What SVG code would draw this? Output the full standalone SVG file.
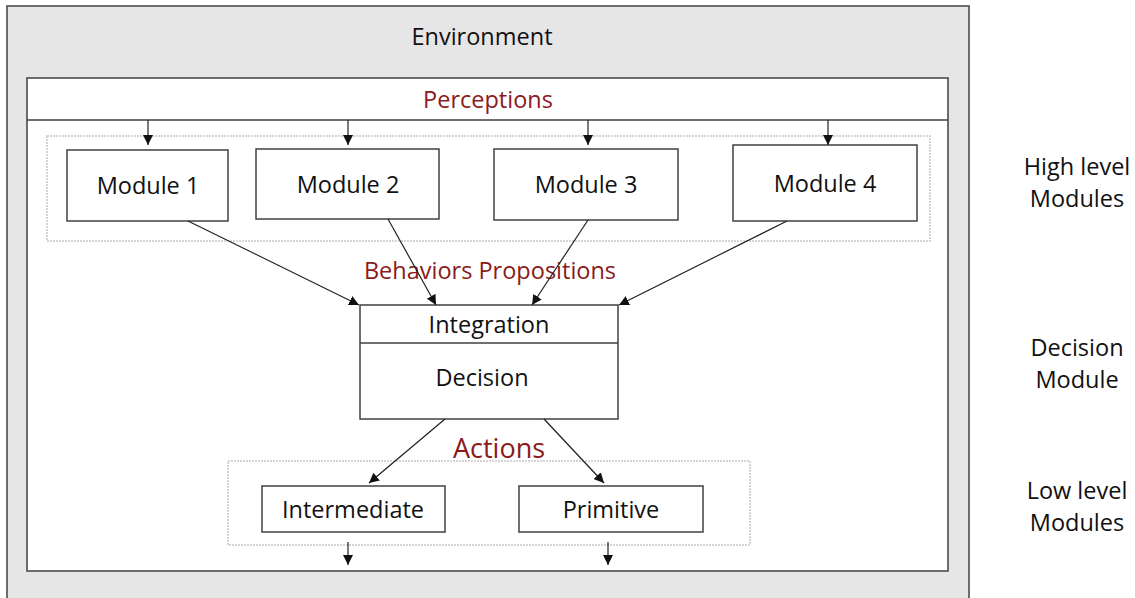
<svg xmlns="http://www.w3.org/2000/svg" width="1135" height="598" viewBox="0 0 1135 598">
<defs>
<marker id="ah" viewBox="0 0 10 10" refX="10" refY="5" markerWidth="10" markerHeight="10" markerUnits="userSpaceOnUse" orient="auto">
<path d="M0,0 L10,5 L0,10 z" fill="#111"/>
</marker>
<style>
.t{font-family:"Open Sans","Liberation Sans",sans-serif;font-size:23.5px;fill:#111;text-anchor:middle}
.r{fill:#8b1a1a}
.box{fill:#fff;stroke:#404040;stroke-width:1.5}
.grp{fill:none;stroke:#c8c8c8;stroke-width:1.5;stroke-dasharray:2 1}
.c{stroke:#222;stroke-width:1.2;fill:none;marker-end:url(#ah)}
</style>
</defs>
<rect width="1135" height="598" fill="#fff"/>
<g id="environment">
<rect x="7" y="6" width="962" height="610" fill="#e6e6e6" stroke="#404040" stroke-width="1.5"/>
<text class="t" x="482" y="45">Environment</text>
</g>
<g id="system">
<rect x="27" y="78" width="921" height="493" class="box"/>
<line x1="27" y1="120" x2="948" y2="120" stroke="#404040" stroke-width="1.5"/>
<text class="t r" x="488" y="108">Perceptions</text>
</g>
<g id="high-level-group">
<rect x="47" y="136" width="883" height="105" class="grp"/>
</g>
<g id="module1">
<rect x="67" y="150" width="161" height="71" class="box"/>
<text class="t" x="148" y="194">Module 1</text>
</g>
<g id="module2">
<rect x="256" y="149" width="183" height="70" class="box"/>
<text class="t" x="348" y="193">Module 2</text>
</g>
<g id="module3">
<rect x="494" y="149" width="184" height="71" class="box"/>
<text class="t" x="586" y="193">Module 3</text>
</g>
<g id="module4">
<rect x="733" y="145" width="184" height="76" class="box"/>
<text class="t" x="825" y="192">Module 4</text>
</g>
<text class="t r" x="490" y="279">Behaviors Propositions</text>
<g id="decision">
<rect x="360" y="305" width="258" height="114" class="box"/>
<line x1="360" y1="343" x2="618" y2="343" stroke="#404040" stroke-width="1.5"/>
<text class="t" x="489" y="333">Integration</text>
<text class="t" x="482" y="386">Decision</text>
</g>
<text class="t r" x="499" y="458" style="font-size:27px">Actions</text>
<g id="low-level-group">
<rect x="228" y="461" width="522" height="84" class="grp"/>
</g>
<g id="intermediate">
<rect x="262" y="486" width="183" height="46" class="box"/>
<text class="t" x="353" y="518">Intermediate</text>
</g>
<g id="primitive">
<rect x="519" y="486" width="184" height="46" class="box"/>
<text class="t" x="611" y="518">Primitive</text>
</g>
<g id="labels">
<text class="t" x="1077" y="175">High level</text>
<text class="t" x="1077" y="207">Modules</text>
<text class="t" x="1077" y="356">Decision</text>
<text class="t" x="1077" y="388">Module</text>
<text class="t" x="1077" y="499">Low level</text>
<text class="t" x="1077" y="531">Modules</text>
</g>
<g id="connectors">
<line class="c" x1="148" y1="120" x2="148" y2="145"/>
<line class="c" x1="348" y1="120" x2="348" y2="145"/>
<line class="c" x1="588" y1="120" x2="588" y2="145"/>
<line class="c" x1="828" y1="120" x2="828" y2="145"/>
<line class="c" x1="188" y1="221" x2="359" y2="305"/>
<line class="c" x1="388" y1="219" x2="436" y2="305"/>
<line class="c" x1="588" y1="220" x2="532" y2="305"/>
<line class="c" x1="787" y1="221" x2="619" y2="305"/>
<line class="c" x1="445" y1="419" x2="369" y2="483"/>
<line class="c" x1="544" y1="419" x2="604" y2="483"/>
<line class="c" x1="348" y1="542" x2="348" y2="565"/>
<line class="c" x1="608" y1="542" x2="608" y2="565"/>
</g>
</svg>
